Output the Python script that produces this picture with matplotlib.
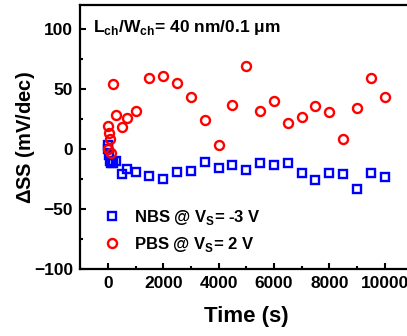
import matplotlib
matplotlib.use("Agg")
import matplotlib.pyplot as plt
from matplotlib.ticker import MultipleLocator

plt.rcParams['font.family'] = ['Liberation Sans', 'DejaVu Sans']
plt.rcParams['font.weight'] = 'bold'
plt.rcParams['mathtext.fontset'] = 'custom'
plt.rcParams['mathtext.rm'] = 'Liberation Sans'
plt.rcParams['mathtext.bf'] = 'Liberation Sans:bold'

# stress time (s)
time_s = [0, 10, 30, 60, 100, 200, 300, 500, 700, 1000,
          1500, 2000, 2500, 3000, 3500, 4000, 4500, 5000, 5500, 6000,
          6500, 7000, 7500, 8000, 8500, 9000, 9500, 10000]

# delta SS (mV/dec)
nbs_dss = [3, 0, -5, -10, -12, -12, -10, -21, -17, -19,
           -22, -25, -19, -18, -10.5, -16, -13, -17.5, -11.5, -13,
           -11.5, -19.5, -26, -20, -21, -33, -19.5, -23]
pbs_dss = [0, 19, 13, 8, -3, 54, 28, 18, 26, 32,
           59, 61, 55, 43, 24, 3, 37, 69, 32, 40,
           22, 27, 36, 31, 8, 34, 59, 43]

fig = plt.figure(figsize=(4.07, 3.36), dpi=100)
ax = fig.add_axes([0.197, 0.199, 0.816, 0.786])

ax.plot(time_s, nbs_dss, 's', ms=6, mfc='none', mec='#0000ff', mew=1.7,
        label=r'NBS @ V$_\mathbf{S}$= -3 V', clip_on=False)
ax.plot(time_s, pbs_dss, 'o', ms=6.5, mfc='none', mec='#ff0000', mew=1.7,
        label=r'PBS @ V$_\mathbf{S}$= 2 V', clip_on=False)

ax.set_xlim(-1000, 11000)
ax.set_ylim(-100, 120)
ax.xaxis.set_major_locator(MultipleLocator(2000))
ax.xaxis.set_minor_locator(MultipleLocator(1000))
ax.yaxis.set_major_locator(MultipleLocator(50))
ax.yaxis.set_minor_locator(MultipleLocator(25))
ax.tick_params(which='both', direction='in', width=1.5, labelsize=12.5)
ax.tick_params(which='major', length=4, pad=5)
ax.tick_params(which='minor', length=2.5)
for sp in ax.spines.values():
    sp.set_linewidth(1.6)

ax.set_xlabel('Time (s)', fontsize=16, fontweight='bold', labelpad=11)
ax.set_ylabel(r'$\Delta$SS (mV/dec)', fontsize=14.5, fontweight='bold')
ax.yaxis.set_label_coords(-0.13, 0.5)

ax.text(0.04, 0.915, r'L$_\mathbf{ch}$/W$_\mathbf{ch}$= 40 nm/0.1 μm',
        transform=ax.transAxes, fontsize=12.5, fontweight='bold', va='center')

leg = ax.legend(loc='lower left', bbox_to_anchor=(0.0, 0.0), frameon=False,
                handletextpad=0.35, labelspacing=0.5,
                prop={'weight': 'bold', 'size': 12})

fig.savefig('out.png', dpi=100)
